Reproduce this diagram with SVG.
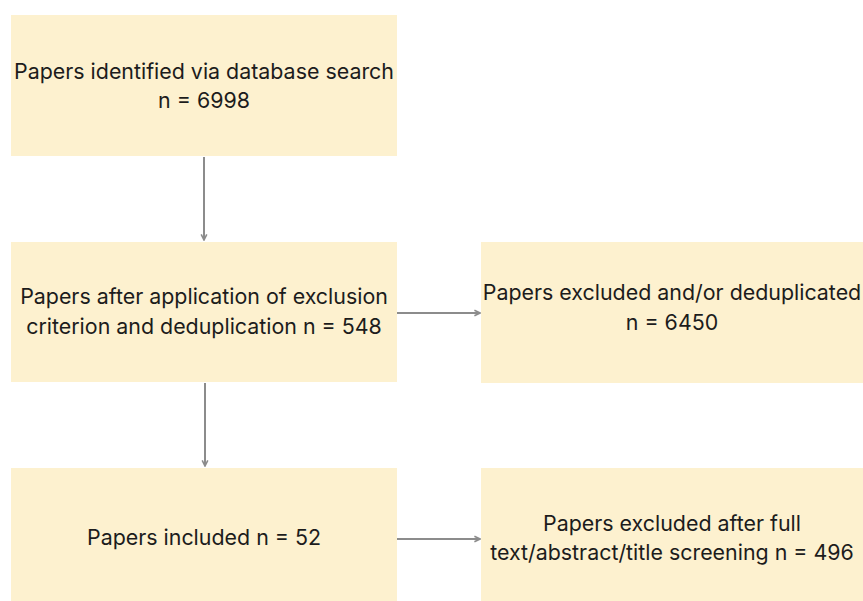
<svg xmlns="http://www.w3.org/2000/svg" width="863" height="601" viewBox="0 0 863 601">
<style>
.box{fill:#fdf1cf}
.t{font-family:Inter,"Liberation Sans",sans-serif;font-size:21.4px;fill:#1c1c1c;text-anchor:middle}
.c{stroke:#8c8c8c;stroke-width:2;fill:none;marker-end:url(#ah)}
</style>
<defs>
<marker id="ah" viewBox="0 0 10 10" refX="9" refY="5" markerWidth="8" markerHeight="8" orient="auto" markerUnits="userSpaceOnUse">
<path d="M2,1.5 L9,5 L2,8.5" fill="none" stroke="#8c8c8c" stroke-width="2"/>
</marker>
</defs>
<rect width="863" height="601" fill="#ffffff"/>
<g id="n1">
<rect class="box" x="11" y="15" width="386" height="141"/>
<text class="t" x="204" y="79">Papers identified via database search</text>
<text class="t" x="204" y="108">n = 6998</text>
</g>
<g id="n2">
<rect class="box" x="11" y="242" width="386" height="140"/>
<text class="t" x="204" y="304">Papers after application of exclusion</text>
<text class="t" x="204" y="334">criterion and deduplication n = 548</text>
</g>
<g id="n3">
<rect class="box" x="481" y="242" width="382" height="141"/>
<text class="t" x="672" y="300">Papers excluded and/or deduplicated</text>
<text class="t" x="672" y="330">n = 6450</text>
</g>
<g id="n4">
<rect class="box" x="11" y="468" width="386" height="133"/>
<text class="t" x="204" y="545">Papers included n = 52</text>
</g>
<g id="n5">
<rect class="box" x="481" y="468" width="382" height="133"/>
<text class="t" x="672" y="531">Papers excluded after full</text>
<text class="t" x="672" y="560">text/abstract/title screening n = 496</text>
</g>
<g id="connectors">
<path class="c" d="M204,157 V240"/>
<path class="c" d="M397,313 H480"/>
<path class="c" d="M205,383 V466"/>
<path class="c" d="M397,539 H480"/>
</g>
</svg>
